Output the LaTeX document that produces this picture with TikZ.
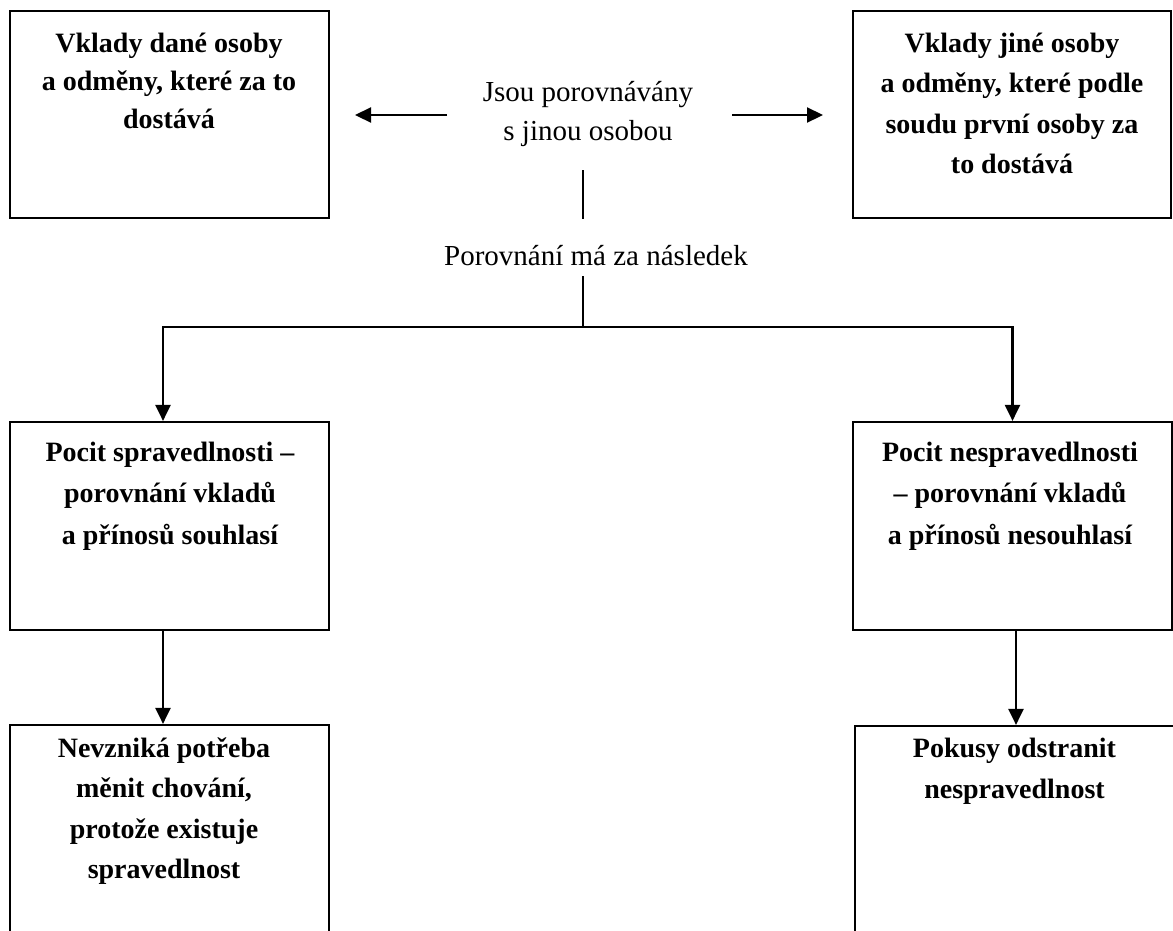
\documentclass[tikz,border=0pt]{standalone}
\usepackage{fontspec}
\setmainfont{Liberation Serif}
\usetikzlibrary{arrows.meta}
\begin{document}
\begin{tikzpicture}[x=1pt,y=-1pt,
  box/.style={draw=black, line width=2.2pt, inner sep=0pt},
  boxtext/.style={font=\bfseries\fontsize{28}{40.5}\selectfont, align=center, anchor=base, inner sep=0pt},
  plaintext/.style={font=\fontsize{29}{39}\selectfont, align=center, anchor=base, inner sep=0pt},
  conn/.style={line width=2.2pt},
  arr/.style={conn, -{Triangle[length=16pt,width=15pt]}}
]
\useasboundingbox (0,0) rectangle (1173,930);
\clip (0,0) rectangle (1173,930);

% boxes
\node[box, minimum width=319pt, minimum height=207pt] (B1) at (169.5,114.5) {};
\node[box, minimum width=318pt, minimum height=207pt] (B2) at (1012,114.5) {};
\node[box, minimum width=319pt, minimum height=208pt] (B3) at (169.5,526) {};
\node[box, minimum width=319pt, minimum height=208pt] (B4) at (1012.5,526) {};
\node[box, minimum width=319pt, minimum height=240pt] (B5) at (169.5,845) {};
\node[box, minimum width=340pt, minimum height=240pt] (B6) at (1025,846) {};

% box texts (anchor base = baseline of last line)
\node[boxtext, font=\bfseries\fontsize{28}{38}\selectfont] (T1) at (169,128) {Vklady dané osoby\\a odměny, které za to\\dostává};
\node[boxtext] (T2) at (1012,173.5) {Vklady jiné osoby\\a odměny, které podle\\soudu první osoby za\\to dostává};
\node[boxtext, font=\bfseries\fontsize{28}{41.5}\selectfont] (T3) at (170,544) {Pocit spravedlnosti –\\porovnání vkladů\\a přínosů souhlasí};
\node[boxtext, font=\bfseries\fontsize{28}{41.5}\selectfont] (T4) at (1010,544) {Pocit nespravedlnosti\\– porovnání vkladů\\a přínosů nesouhlasí};
\node[boxtext, font=\bfseries\fontsize{28}{40.5}\selectfont] (T5) at (164,878.5) {Nevzniká potřeba\\měnit chování,\\protože existuje\\spravedlnost};
\node[boxtext, font=\bfseries\fontsize{28}{41}\selectfont] (T6) at (1014.5,798) {Pokusy odstranit\\nespravedlnost};

% middle texts
\node[plaintext] (C1) at (588,140) {Jsou porovnávány\\s jinou osobou};
\node[plaintext] (C2) at (596,265) {Porovnání má za následek};

% free ends
\coordinate (la) at (447,115);
\coordinate (lt) at (355,115);
\coordinate (ra) at (732,115);
\coordinate (rt) at (823,115);
\coordinate (v1a) at (583,170);
\coordinate (v1b) at (583,219);
\coordinate (v2a) at (583,276);
\coordinate (j) at (583,327);

% connectors
\draw[arr] (la) -- (lt);
\draw[arr] (ra) -- (rt);
\draw[conn] (v1a) -- (v1b);
\draw[conn] (v2a) -- (j);
\draw[arr] (j) -| ([xshift=-6.5pt]B3.north);
\draw[arr] (j) -| (B4.north);
\draw[arr] ([xshift=-6.5pt]B3.south) -- ([xshift=-6.5pt]B3.south |- B5.north);
\draw[arr] ([xshift=3.5pt]B4.south) -- ([xshift=3.5pt]B4.south |- B6.north);
\end{tikzpicture}
\end{document}
